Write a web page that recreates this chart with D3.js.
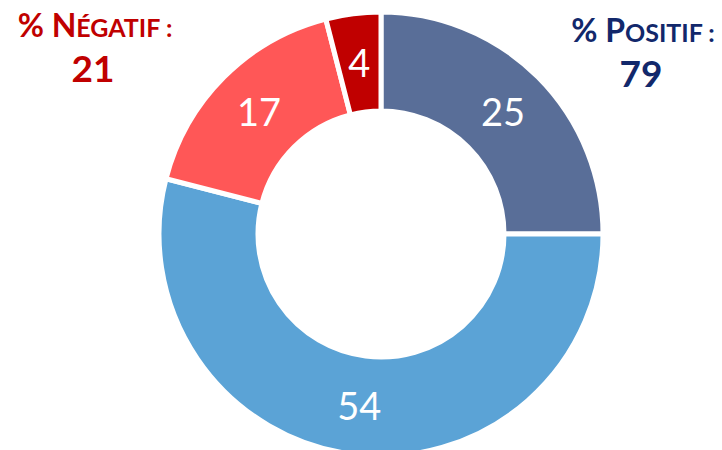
<!DOCTYPE html>
<html>
<head>
<meta charset="utf-8">
<script src="https://cdn.jsdelivr.net/npm/d3@7"></script>
<style>
  body { margin: 0; background: #fff; }
  text { font-family: Lato, "Open Sans", sans-serif; }
</style>
</head>
<body>
<div id="chart"></div>
<script>
// slices, clockwise from 12 o'clock
var labels = ["pos_fort", "pos", "neg", "neg_fort"];
var values = [25, 54, 17, 4];
var colors = ["#596e98", "#5ba3d6", "#ff5757", "#c00000"];

var totalNeg = 21, totalPos = 79;

var width = 722, height = 450;
var cx = 381, cy = 234;
var outer = 222, inner = 123;

var svg = d3.select("#chart").append("svg")
  .attr("width", width)
  .attr("height", height);

var g = svg.append("g")
  .attr("transform", "translate(" + cx + "," + cy + ")");

var pie = d3.pie().sort(null).value(function(d) { return d; });
var arc = d3.arc().innerRadius(inner).outerRadius(outer);
var labelArc = d3.arc().innerRadius((inner + outer) / 2).outerRadius((inner + outer) / 2);

var arcs = pie(values);

g.selectAll("path")
  .data(arcs)
  .enter()
  .append("path")
  .attr("d", arc)
  .attr("fill", function(d, i) { return colors[i]; })
  .style("stroke", "#fff")
  .style("stroke-width", 5);

g.selectAll("text.val")
  .data(arcs)
  .enter()
  .append("text")
  .attr("class", "val")
  .attr("transform", function(d) { return "translate(" + labelArc.centroid(d) + ")"; })
  .attr("text-anchor", "middle")
  .attr("dy", "0.38em")
  .attr("fill", "#fff")
  .attr("font-size", 38)
  .text(function(d) { return d.value; });

// side totals, small caps done by hand
function total(x, y, first, rest, num, col) {
  var t = svg.append("text")
    .attr("x", x).attr("y", y)
    .attr("text-anchor", "middle")
    .attr("font-weight", "bold")
    .attr("fill", col);
  t.append("tspan").attr("font-size", 32).text(first);
  t.append("tspan").attr("font-size", 25).text(rest);
  svg.append("text")
    .attr("x", x - 2).attr("y", y + 45)
    .attr("text-anchor", "middle")
    .attr("font-size", 37)
    .attr("font-weight", "bold")
    .attr("fill", col)
    .text(num);
}

total(95, 37, "% N", "ÉGATIF :", totalNeg, "#c00000");
total(643, 42, "% P", "OSITIF :", totalPos, "#12286b");
</script>
</body>
</html>
